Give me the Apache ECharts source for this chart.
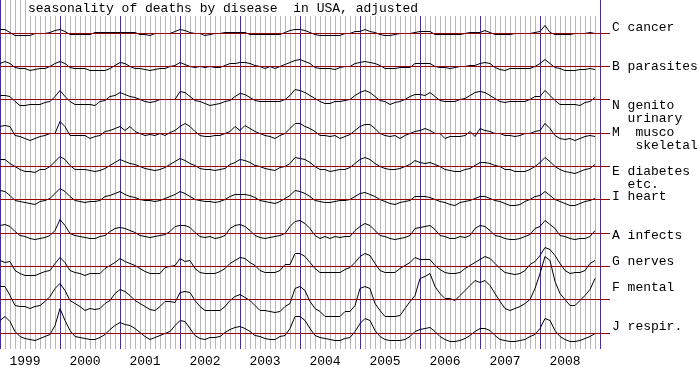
<!DOCTYPE html>
<html>
<head>
<meta charset="utf-8">
<script src="https://cdn.jsdelivr.net/npm/echarts@6/dist/echarts.min.js"></script>
<style>
  html, body { margin: 0; padding: 0; background: #fff; }
  #chart { width: 700px; height: 370px; }
</style>
</head>
<body>
<div id="chart"></div>
<script>
// monthly deviation from trend, Jan 1999 .. Dec 2008 (arbitrary units, + = above)
const years = [1999, 2000, 2001, 2002, 2003, 2004, 2005, 2006, 2007, 2008];

const cancer = [
  4, 4, 1, -2, -2, -2, -2, 0, 0, 0, 1, 3,
  4, 2, -1, -1, -1, -1, -1, 1, 1, 1, 1, 1,
  1, 1, 1, 1, -1, -1, -2, 0, 0, 0, 0, 2,
  4, 3, 1, 0, 0, -2, -1, 0, 0, 1, 1, 1,
  1, 1, -1, -1, -1, -1, -1, -1, -1, 1, 3, 4,
  4, 3, 1, -1, -2, -2, -2, -2, -2, 0, 0, 2,
  2, 4, 2, 1, -1, -2, -2, -1, 0, 0, 0, 1,
  2, 2, 2, -1, -1, -1, -1, -1, -1, 0, 1, 1,
  1, 3, 1, -1, -1, -1, -1, 0, 0, 0, 0, 1,
  2, 8, 1, -1, -1, -1, -1, 0, 0, 0, 1, 0
];
const parasites = [
  3, 5, 3, -1, -2, -2, -4, -3, -2, -2, 0, 3,
  5, 3, -1, -2, -2, -2, -4, -4, -4, -4, -2, 1,
  4, 3, 0, -2, -2, -3, -4, -3, -2, -2, 0, 1,
  4, 2, 0, -1, 0, -1, 0, -1, -1, 1, 3, 3,
  4, 4, 3, 1, 0, -2, 0, -2, 0, 2, 4, 6,
  7, 5, 3, -1, -2, -2, -2, -3, -1, 0, 0, 3,
  4, 5, 4, 3, 1, -2, -2, -2, -1, -1, -1, 3,
  3, 3, 3, 0, -1, -1, -2, -1, 0, 0, 1, 1,
  3, 4, 3, -1, -3, -4, -2, -2, -2, -2, -2, 0,
  3, 7, 3, -1, -2, -4, -4, -4, -3, -3, -2, -3
];
const genito = [
  4, 4, 3, -2, -6, -6, -5, -5, -5, -3, -2, 3,
  9, 3, -2, -5, -5, -5, -5, -6, -2, -1, 3, 4,
  7, 5, 3, 2, 0, -2, -3, -2, 0, 0, 0, 0,
  8, 7, 3, -1, -2, -4, -6, -5, -4, -2, -1, 3,
  6, 5, 2, -1, -2, -2, -2, -2, -2, 0, 4, 10,
  9, 7, 4, 1, -2, -4, -4, -2, -2, -1, 0, 4,
  7, 9, 7, 3, -1, -2, -5, -3, -2, 0, 3, 5,
  5, 4, 7, 3, -1, -2, -2, -2, 0, 1, 4, 7,
  8, 7, 4, 1, -2, -3, -2, -2, -2, -2, 0, 3,
  3, 9, 4, -1, -5, -5, -5, -5, -6, -3, -2, 2
];
const musco = [
  7, 8, 7, -2, -3, -5, -7, -5, -3, -2, 0, 0,
  12, 7, -2, -2, -2, -2, -5, -3, -2, 2, 3, 5,
  7, 3, 7, 2, 0, -2, -1, -2, 0, -2, 1, 3,
  7, 10, 7, 2, -2, -3, -3, -2, -2, 0, 2, 7,
  3, 8, 5, 2, 0, -2, -3, -5, -2, 0, 5, 10,
  10, 7, 5, 2, -2, -2, -3, -2, -5, -3, -1, 3,
  7, 9, 9, 5, 0, -2, -3, -2, -5, -2, 0, 2,
  3, 5, 3, 0, 0, -5, -3, -3, -3, -2, 2, -3,
  5, 3, 2, 0, 0, -2, -2, -3, -2, 0, 0, 2,
  3, 10, 5, -2, -5, -6, -5, -7, -5, -3, -2, -3
];
const diabetes = [
  7, 7, 3, 0, -3, -5, -5, -6, -3, -3, 0, 5,
  10, 7, 1, -3, -3, -3, -4, -5, -4, -2, 1, 4,
  7, 5, 3, 2, 0, -2, -3, -4, -3, -1, 2, 5,
  8, 6, 3, 1, -2, -3, -3, -4, -3, -2, 2, 4,
  7, 6, 4, 1, 0, -2, -3, -4, -1, 0, 3, 9,
  8, 7, 4, 0, -3, -3, -5, -4, -3, -3, -1, 3,
  7, 9, 7, 3, 0, -2, -3, -3, -2, 0, 2, 6,
  4, 3, 4, 2, 0, -3, -4, -5, -5, -3, -2, 1,
  4, 4, 3, 1, 0, -3, -3, -5, -5, -5, -3, 0,
  4, 9, 5, 0, -3, -5, -6, -7, -5, -3, -2, 2
];
const heart = [
  9, 8, 4, -1, -2, -3, -4, -5, -2, -1, 1, 6,
  11, 8, 3, -1, -2, -3, -2, -2, -1, 3, 4, 6,
  8, 5, 3, 2, 0, -1, -1, -2, -1, 1, 3, 5,
  8, 6, 3, 0, -1, -2, -2, -3, -2, 0, 3, 5,
  5, 5, 4, 2, -1, -2, -3, -4, -2, 1, 4, 9,
  8, 6, 3, -1, -2, -3, -3, -2, -1, -1, 0, 3,
  6, 7, 5, 3, 0, -2, -4, -5, -3, -2, -1, 3,
  3, 3, 2, 0, -2, -3, -5, -6, -3, -2, -1, 1,
  3, 3, 1, -1, -2, -4, -6, -6, -5, -2, 0, 3,
  4, 8, 4, 0, -2, -4, -6, -6, -4, -2, -1, 1
];
const infects = [
  8, 9, 7, 2, -2, -3, -5, -6, -5, -4, -2, 3,
  14, 8, 0, -2, -3, -4, -5, -5, -3, -2, 2, 5,
  6, 5, 3, 1, -2, -3, -4, -3, -2, -1, 2, 7,
  8, 8, 6, 1, -3, -4, -3, -5, -4, -2, 5, 8,
  9, 7, 3, -2, -4, -5, -4, -3, -2, 0, 7, 12,
  13, 10, 5, -2, -5, -3, -5, -3, -4, -3, -3, 3,
  7, 10, 8, 3, -2, -3, -5, -6, -5, -4, -2, 5,
  6, 7, 8, 4, -2, -3, -5, -5, -3, -4, -2, 5,
  8, 7, 3, -2, -3, -5, -6, -6, -5, -3, -1, 5,
  7, 13, 9, 5, -2, -3, -5, -6, -5, -5, -3, 3
];
const nerves = [
  6, 4, 5, -4, -7, -9, -9, -9, -7, -5, -4, 3,
  9, 4, -4, -6, -7, -9, -7, -7, -7, -2, 1, 4,
  8, 5, 3, 1, -2, -5, -7, -7, -7, -1, 0, 1,
  8, 5, 6, -2, -6, -7, -7, -7, -5, -2, 3, 6,
  9, 8, 4, 1, -4, -6, -6, -6, -4, 2, 2, 13,
  13, 10, 4, -2, -6, -6, -6, -6, -6, -3, -1, 4,
  10, 13, 11, 3, -4, -6, -6, -6, -2, 1, 4, 9,
  7, 7, 7, 1, -3, -6, -7, -7, -6, -2, 1, 4,
  7, 10, 8, 3, -2, -6, -7, -8, -7, -4, 2, 5,
  11, 19, 17, 11, 3, -4, -7, -6, -6, -4, 3, 6
];
const mental = [
  13, 13, 4, -6, -7, -7, -9, -7, -6, -2, 3, 11,
  16, 9, -1, -4, -7, -11, -9, -10, -9, -4, -1, 6,
  10, 8, 4, -1, -4, -7, -10, -11, -7, -2, -2, -3,
  7, 8, 7, -1, -7, -11, -11, -11, -11, -7, -1, 3,
  5, 2, -1, -6, -11, -11, -12, -13, -12, -7, -4, 11,
  13, 9, -2, -9, -12, -17, -17, -17, -17, -12, -12, -6,
  11, 13, 11, -4, -11, -17, -17, -17, -16, -9, -2, 4,
  21, 23, 26, 13, 6, 1, 1, -1, 4, 9, 14, 19,
  17, 19, 14, 6, -2, -9, -11, -9, -7, -4, 0, 11,
  26, 43, 39, 18, 6, 0, -6, -6, -1, 4, 10, 21
];
const respir = [
  13, 17, 12, 2, -3, -5, -6, -7, -5, -3, -1, 8,
  25, 13, 3, -3, -4, -5, -6, -6, -4, -1, 4, 8,
  11, 9, 8, 5, 1, -3, -6, -4, -2, 0, 2, 8,
  13, 12, 5, -2, -5, -6, -4, -4, -3, 1, 4, 6,
  7, 5, 2, -2, -3, -5, -6, -6, -3, -2, 5, 17,
  17, 13, 5, -2, -4, -5, -6, -7, -7, -5, -4, 2,
  10, 15, 13, 3, -3, -6, -7, -7, -7, -6, -3, 2,
  4, 5, 6, 2, -3, -6, -8, -8, -7, -5, -2, 2,
  5, 5, 3, -2, -6, -7, -8, -8, -7, -6, -3, -1,
  5, 15, 13, 3, -3, -6, -8, -8, -7, -5, -3, 0
];

// top to bottom
const seriesData = [cancer, parasites, genito, musco, diabetes, heart, infects, nerves, mental, respir];
const seriesLabels = [
  ["C cancer"],
  ["B parasites"],
  ["N genito", "  urinary"],
  ["M  musco", "   skeletal"],
  ["E diabetes", "  etc."],
  ["I heart"],
  ["A infects"],
  ["G nerves"],
  ["F mental"],
  ["J respir."]
];
const titleText = "seasonality of deaths by disease  in USA, adjusted";

// layout
const FONT = "'Liberation Mono', 'DejaVu Sans Mono', monospace";
const GRID_W = 610;   // 122 month steps of 5px
const GRID_H = 349;
const BAND = 33.3;
const BLUE = "#3d1eff";
const GREY = "#b8b8b8";
const RED = "#990000";
const labelY = [28, 67, 106, 133, 172, 197, 236, 262, 288, 327];
const LINE_GAP = 12.5;

// month categories; spare months after Dec 2008 so the baselines run past the last blue line
const months = [];
for (let y = years[0]; y <= years[years.length - 1] + 1; y++) {
  for (let m = 1; m <= 12; m++) {
    months.push(y + "-" + String(m).padStart(2, "0"));
  }
}
months.length = years.length * 12 + 3;
const lastMonth = years.length * 12;

const baselines = seriesData.map((_, k) => Math.floor(BAND * (k + 1)) + 0.5);

const splitColors = [BLUE];
for (let i = 0; i < 11; i++) splitColors.push(GREY);

const graphic = [
  {
    type: "rect",
    z: 10,
    shape: { x: 26, y: 0, width: 573, height: 16 },
    style: { fill: "#fff" }
  },
  {
    type: "text",
    z: 11,
    x: 28,
    y: 9,
    style: {
      text: titleText,
      font: "13px " + FONT,
      fill: "#000",
      verticalAlign: "middle"
    }
  }
];
seriesLabels.forEach((lines, k) => {
  lines.forEach((line, j) => {
    graphic.push({
      type: "text",
      z: 11,
      x: 612,
      y: labelY[k] + j * LINE_GAP,
      style: {
        text: line,
        font: "13px " + FONT,
        fill: "#000",
        verticalAlign: "middle"
      }
    });
  });
});

const chart = echarts.init(document.getElementById("chart"), null, { renderer: "canvas" });
chart.setOption({
  animation: false,
  backgroundColor: "#fff",
  grid: { left: 0, top: 0, width: GRID_W, height: GRID_H, containLabel: false },
  xAxis: {
    type: "category",
    data: months,
    boundaryGap: false,
    axisLine: { show: false },
    axisTick: { show: false },
    axisLabel: {
      interval: (i) => i % 12 === 5 && i < lastMonth,
      formatter: (v) => v.slice(0, 4),
      margin: 6,
      color: "#000",
      fontFamily: FONT,
      fontSize: 13
    },
    splitLine: {
      show: true,
      interval: (i) => i <= lastMonth,
      lineStyle: { color: splitColors, width: 1 }
    }
  },
  yAxis: baselines.map((b) => ({
    type: "value",
    show: false,
    min: -(GRID_H - b),
    max: b,
    splitLine: { show: false }
  })),
  series: seriesData.map((d, k) => ({
    type: "line",
    name: seriesLabels[k][0],
    yAxisIndex: k,
    data: d,
    showSymbol: false,
    symbol: "none",
    silent: true,
    lineStyle: { color: "#000", width: 1 },
    z: 3,
    markLine: {
      silent: true,
      symbol: "none",
      label: { show: false },
      lineStyle: { color: RED, width: 1, type: "solid" },
      emphasis: { disabled: true },
      data: [{ yAxis: 0 }]
    }
  })),
  graphic: graphic
});
</script>
</body>
</html>
